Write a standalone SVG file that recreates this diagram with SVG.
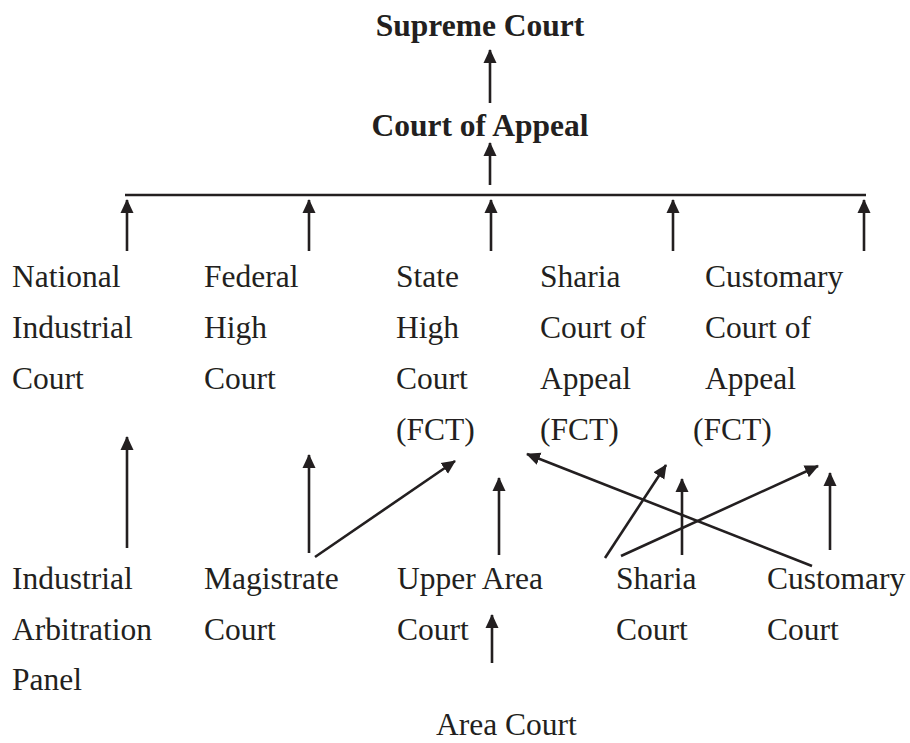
<svg xmlns="http://www.w3.org/2000/svg" width="910" height="743" viewBox="0 0 910 743">
<style>
text{font-family:"Liberation Serif","Times New Roman",serif;font-size:31.5px;fill:#231f20}
.b{font-weight:bold}
.c line{stroke:#231f20;stroke-width:2.6;fill:none}
.a{marker-end:url(#ah)}
</style>
<defs>
<marker id="ah" markerUnits="userSpaceOnUse" markerWidth="14" markerHeight="14" viewBox="0 0 14 14" refX="13" refY="7" orient="auto">
<path d="M0,0.5 L14,7 L0,13.5 Z" fill="#231f20"/>
</marker>
</defs>
<rect width="910" height="743" fill="#fff"/>
<g id="supreme"><text class="b" x="480" y="36" text-anchor="middle">Supreme Court</text></g>
<g id="appeal"><text class="b" x="480" y="136" text-anchor="middle">Court of Appeal</text></g>
<g id="nic"><text x="12" y="287">National</text><text x="12" y="338">Industrial</text><text x="12" y="389">Court</text></g>
<g id="fhc"><text x="204" y="287">Federal</text><text x="204" y="338">High</text><text x="204" y="389">Court</text></g>
<g id="shc"><text x="396" y="287">State</text><text x="396" y="338">High</text><text x="396" y="389">Court</text><text x="396" y="440">(FCT)</text></g>
<g id="scoa"><text x="540" y="287">Sharia</text><text x="540" y="338">Court of</text><text x="540" y="389">Appeal</text><text x="540" y="440">(FCT)</text></g>
<g id="ccoa"><text x="705" y="287">Customary</text><text x="705" y="338">Court of</text><text x="705" y="389">Appeal</text><text x="693" y="440">(FCT)</text></g>
<g id="iap"><text x="12" y="589">Industrial</text><text x="12" y="640">Arbitration</text><text x="12" y="690">Panel</text></g>
<g id="mag"><text x="204" y="589">Magistrate</text><text x="204" y="640">Court</text></g>
<g id="uac"><text x="397" y="589">Upper Area</text><text x="397" y="640">Court</text></g>
<g id="shar"><text x="616" y="589">Sharia</text><text x="616" y="640">Court</text></g>
<g id="cust"><text x="767" y="589">Customary</text><text x="767" y="640">Court</text></g>
<g id="ac"><text x="436" y="735">Area Court</text></g>
<g id="connectors" class="c">
<line class="a" x1="490" y1="103" x2="490" y2="50"/>
<line class="a" x1="490" y1="185" x2="490" y2="143"/>
<line x1="125" y1="195" x2="866" y2="195"/>
<line class="a" x1="127" y1="251" x2="127" y2="200"/>
<line class="a" x1="309" y1="251" x2="309" y2="200"/>
<line class="a" x1="491" y1="251" x2="491" y2="200"/>
<line class="a" x1="673" y1="251" x2="673" y2="200"/>
<line class="a" x1="864" y1="251" x2="864" y2="200"/>
<line class="a" x1="127" y1="548" x2="127" y2="437"/>
<line class="a" x1="309" y1="553" x2="309" y2="455"/>
<line class="a" x1="315" y1="557" x2="455" y2="461"/>
<line class="a" x1="499" y1="555" x2="499" y2="478"/>
<line class="a" x1="812" y1="566" x2="527" y2="454"/>
<line class="a" x1="605" y1="558" x2="666" y2="465"/>
<line class="a" x1="682" y1="555" x2="682" y2="479"/>
<line class="a" x1="621" y1="556" x2="818" y2="466"/>
<line class="a" x1="830" y1="550" x2="830" y2="473"/>
<line class="a" x1="492" y1="663" x2="492" y2="615"/>
</g>
</svg>
